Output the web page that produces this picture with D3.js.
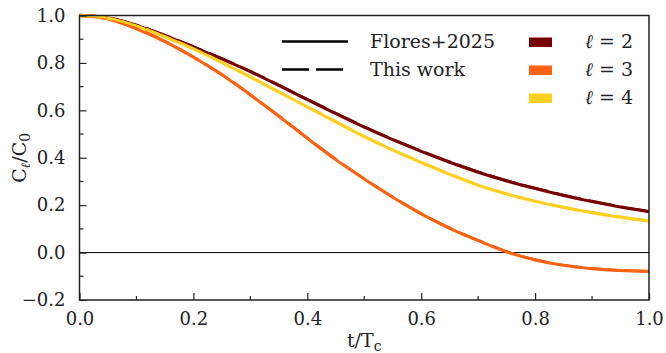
<!DOCTYPE html>
<html>
<head>
<meta charset="utf-8">
<style>
    body { margin: 0; background: white; }
    svg { font-family: 'DejaVu Serif', serif; }
</style>
</head>
<body>
<svg width="666" height="353"></svg>
<script src="https://d3js.org/d3.v7.min.js"></script>
<script>

    // t/Tc sample points
    let tVals = [0, 0.05, 0.1, 0.15, 0.2, 0.25, 0.3, 0.35, 0.4, 0.45, 0.5, 0.55, 0.6, 0.65, 0.7, 0.75, 0.8, 0.85, 0.9, 0.95, 1.0]

    // C_l / C_0
    let l2 = [1.0, 0.99, 0.958, 0.915, 0.867, 0.817, 0.763, 0.705, 0.645, 0.586, 0.529, 0.476, 0.427, 0.381, 0.339, 0.302, 0.27, 0.241, 0.215, 0.192, 0.172]
    let l3 = [1.0, 0.985, 0.944, 0.89, 0.824, 0.75, 0.665, 0.575, 0.482, 0.392, 0.31, 0.233, 0.163, 0.102, 0.05, 0.003, -0.031, -0.054, -0.068, -0.076, -0.08]
    let l4 = [1.0, 0.988, 0.955, 0.91, 0.859, 0.801, 0.74, 0.677, 0.614, 0.551, 0.489, 0.432, 0.38, 0.33, 0.284, 0.247, 0.216, 0.19, 0.168, 0.149, 0.133]

    let seriesNames = ["ℓ = 2", "ℓ = 3", "ℓ = 4"]
    let seriesColors = ["#770000", "#ff6212", "#ffd020"]
    let seriesValues = [l2, l3, l4]

    let xTicks = [0, 0.2, 0.4, 0.6, 0.8, 1.0]
    let yTicks = [-0.2, 0, 0.2, 0.4, 0.6, 0.8, 1.0]

    let svg = d3.select("svg")
    let pLeft = 79.5, pRight = 649, pTop = 15.5, pBottom = 300

    let x = d3.scaleLinear().domain([0, 1]).range([pLeft, pRight])
    let y = d3.scaleLinear().domain([-0.2, 1.0]).range([pBottom, pTop])

    // zero line
    svg.append("line")
        .attr("x1", pLeft).attr("x2", pRight)
        .attr("y1", y(0)).attr("y2", y(0))
        .style("stroke", "black")
        .style("stroke-width", 1)

    let line = d3.line()
        .x((d, i) => x(tVals[i]))
        .y(d => y(d))
        .curve(d3.curveMonotoneX)

    let plot = svg.append("g")

    // Flores+2025 (solid)
    seriesValues.forEach((vals, k) => {
        plot.append("path")
            .attr("d", line(vals))
            .style("fill", "none")
            .style("stroke", seriesColors[k])
            .style("stroke-width", 3)
    })

    // This work (dashed)
    seriesValues.forEach((vals, k) => {
        plot.append("path")
            .attr("d", line(vals.map(v => v + 0.002)))
            .style("fill", "none")
            .style("stroke", seriesColors[k])
            .style("stroke-width", 2.6)
            .style("stroke-dasharray", "27,7")
    })

    // axes, ticks inward
    let xAxis = d3.axisBottom(x).tickValues(xTicks).tickSize(-7).tickPadding(12).tickFormat(d3.format(".1f"))
    let yAxis = d3.axisLeft(y).tickValues(yTicks).tickSize(-7).tickPadding(14)
        .tickFormat(d => d < 0 ? "\u2212" + d3.format(".1f")(-d) : d3.format(".1f")(d))

    let gx = svg.append("g").attr("transform", `translate(0,${pBottom})`).call(xAxis)
    let gy = svg.append("g").attr("transform", `translate(${pLeft},0)`).call(yAxis)

    // minor ticks
    svg.append("g").selectAll("line")
        .data(d3.range(0.1, 1.0, 0.2))
        .join("line")
        .attr("x1", d => x(d)).attr("x2", d => x(d))
        .attr("y1", pBottom).attr("y2", pBottom - 4)
        .style("stroke", "#222").style("stroke-width", 1.2)
    svg.append("g").selectAll("line")
        .data(d3.range(-0.1, 1.0, 0.2))
        .join("line")
        .attr("x1", pLeft).attr("x2", pLeft + 4)
        .attr("y1", d => y(d)).attr("y2", d => y(d))
        .style("stroke", "#222").style("stroke-width", 1.2)

    ;[gx, gy].forEach(g => {
        g.select(".domain").remove()
        g.selectAll(".tick line").style("stroke", "#222").style("stroke-width", 1.2)
        g.selectAll(".tick text").style("font-family", "'DejaVu Serif', serif").style("font-size", "18px").style("fill", "#222")
    })

    // frame
    svg.append("rect")
        .attr("x", pLeft).attr("y", pTop)
        .attr("width", pRight - pLeft).attr("height", pBottom - pTop)
        .style("fill", "none")
        .style("stroke", "#222")
        .style("stroke-width", 1.5)

    // axis labels
    let xl = svg.append("text")
        .attr("x", (pLeft + pRight) / 2).attr("y", 347)
        .attr("text-anchor", "middle")
        .style("font-size", "19px").style("fill", "#222")
    xl.append("tspan").text("t/T")
    xl.append("tspan").text("c").attr("dy", 4).style("font-size", "14px")

    let yl = svg.append("text")
        .attr("transform", `translate(26,${(pTop + pBottom) / 2}) rotate(-90)`)
        .attr("text-anchor", "middle")
        .style("font-size", "19px").style("fill", "#222")
    yl.append("tspan").text("C")
    yl.append("tspan").text("ℓ").attr("dy", 4).style("font-size", "13px").style("font-style", "italic")
    yl.append("tspan").text("/C").attr("dy", -4)
    yl.append("tspan").text("0").attr("dy", 4).style("font-size", "14px")

    // legend
    let legend = svg.append("g")
    let styleNames = ["Flores+2025", "This work"]
    let styleDash = [null, "27,7"]
    styleNames.forEach((name, i) => {
        legend.append("line")
            .attr("x1", 282).attr("x2", 348)
            .attr("y1", 41.5 + i * 28).attr("y2", 41.5 + i * 28)
            .style("stroke", "black").style("stroke-width", 2.6)
            .style("stroke-dasharray", styleDash[i])
        legend.append("text")
            .attr("x", 370).attr("y", 48 + i * 28)
            .style("font-size", "19px").style("fill", "#222")
            .text(name)
    })
    seriesNames.forEach((name, k) => {
        legend.append("rect")
            .attr("x", 529).attr("y", 37.5 + k * 28)
            .attr("width", 23).attr("height", 9.5)
            .style("fill", seriesColors[k])
        let t = legend.append("text")
            .attr("x", 585).attr("y", 48 + k * 28)
            .style("font-size", "19px").style("fill", "#222")
        t.append("tspan").text("ℓ").style("font-style", "italic")
        t.append("tspan").text(" = " + (k + 2))
    })

</script>
</body>
</html>
